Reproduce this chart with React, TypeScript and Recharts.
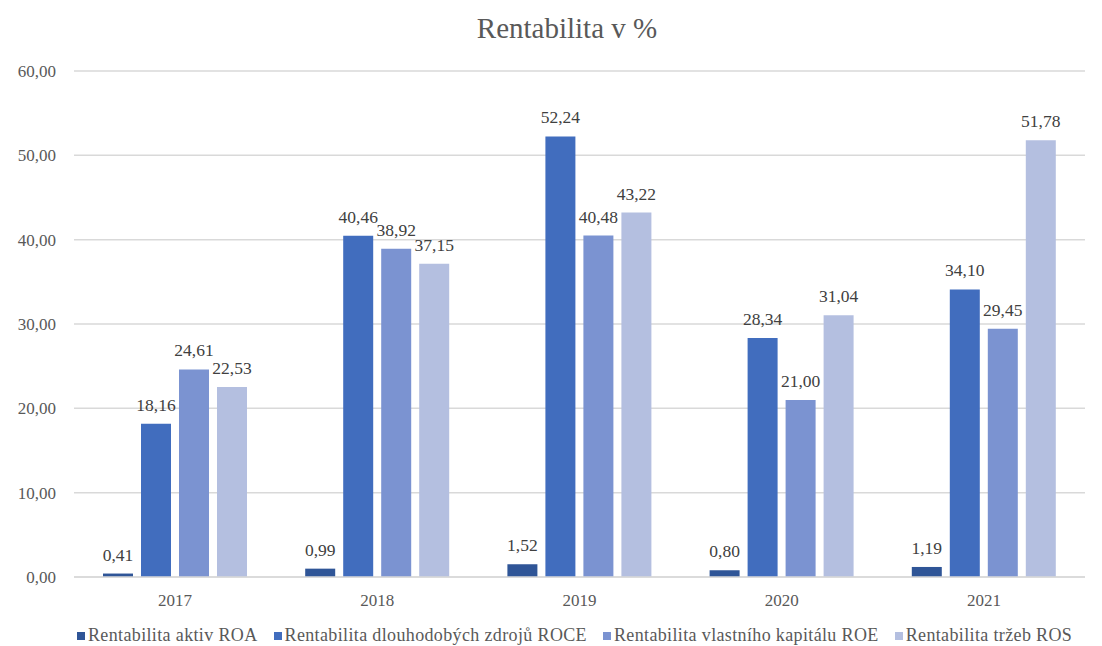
import React from "react";
import { BarChart, Bar, XAxis, YAxis, CartesianGrid, LabelList, Legend } from "recharts";

const years = ["2017", "2018", "2019", "2020", "2021"];
const roa = [0.41, 0.99, 1.52, 0.8, 1.19];
const roce = [18.16, 40.46, 52.24, 28.34, 34.1];
const roe = [24.61, 38.92, 40.48, 21.0, 29.45];
const ros = [22.53, 37.15, 43.22, 31.04, 51.78];
const yTicks = [0, 10, 20, 30, 40, 50, 60];

const series = [
  { key: "roa", name: "Rentabilita aktiv ROA", color: "#2F5597" },
  { key: "roce", name: "Rentabilita dlouhodobých zdrojů ROCE", color: "#416DBE" },
  { key: "roe", name: "Rentabilita vlastního kapitálu ROE", color: "#7B93D1" },
  { key: "ros", name: "Rentabilita tržeb ROS", color: "#B4BFE0" },
];

const data = years.map((year, i) => ({
  year,
  roa: roa[i],
  roce: roce[i],
  roe: roe[i],
  ros: ros[i],
}));

const FONT = "Liberation Serif, DejaVu Serif, serif";
const fmt = (v: number) => v.toFixed(2).replace(".", ",");

const LegendContent = () => (
  <div
    style={{
      display: "flex",
      alignItems: "center",
      height: 39,
      paddingTop: 18,
      paddingLeft: 75,
      boxSizing: "border-box",
      fontFamily: FONT,
      fontSize: 18,
      letterSpacing: 0.36,
      color: "#595959",
      whiteSpace: "nowrap",
    }}
  >
    {series.map((s) => (
      <div key={s.key} style={{ display: "flex", alignItems: "center", marginRight: 16 }}>
        <span style={{ width: 8, height: 8, background: s.color, display: "inline-block", marginRight: 3 }} />
        <span>{s.name}</span>
      </div>
    ))}
  </div>
);

export default function App() {
  return (
    <div style={{ position: "absolute", left: 0, top: 0, width: 1102, height: 646, background: "#fff" }}>
      <div
        style={{
          position: "absolute",
          left: 0,
          width: 1134,
          top: 12,
          textAlign: "center",
          fontFamily: FONT,
          fontSize: 29,
          color: "#595959",
        }}
      >
        Rentabilita v %
      </div>
      <BarChart
        width={1102}
        height={646}
        data={data}
        margin={{ top: 71, right: 17, left: 2, bottom: 0 }}
        barSize={30}
        barGap={8}
      >
        <CartesianGrid vertical={false} stroke="#D9D9D9" strokeWidth={1.5} />
        <XAxis
          dataKey="year"
          height={30}
          tickLine={false}
          axisLine={{ stroke: "#D9D9D9", strokeWidth: 1.5 }}
          tick={{ fill: "#595959", fontSize: 17, fontFamily: FONT }}
          tickMargin={11}
        />
        <YAxis
          width={72}
          domain={[0, 60]}
          ticks={yTicks}
          tickFormatter={fmt}
          axisLine={false}
          tickLine={false}
          tick={{ fill: "#595959", fontSize: 17, fontFamily: FONT }}
          tickMargin={12}
        />
        <Legend verticalAlign="bottom" height={39} content={<LegendContent />} />
        {series.map((s) => (
          <Bar key={s.key} dataKey={s.key} name={s.name} fill={s.color} isAnimationActive={false}>
            <LabelList
              dataKey={s.key}
              position="top"
              offset={13}
              formatter={(v: any) => fmt(Number(v))}
              style={{ fill: "#404040", fontSize: 17.5, fontFamily: FONT }}
            />
          </Bar>
        ))}
      </BarChart>
    </div>
  );
}
